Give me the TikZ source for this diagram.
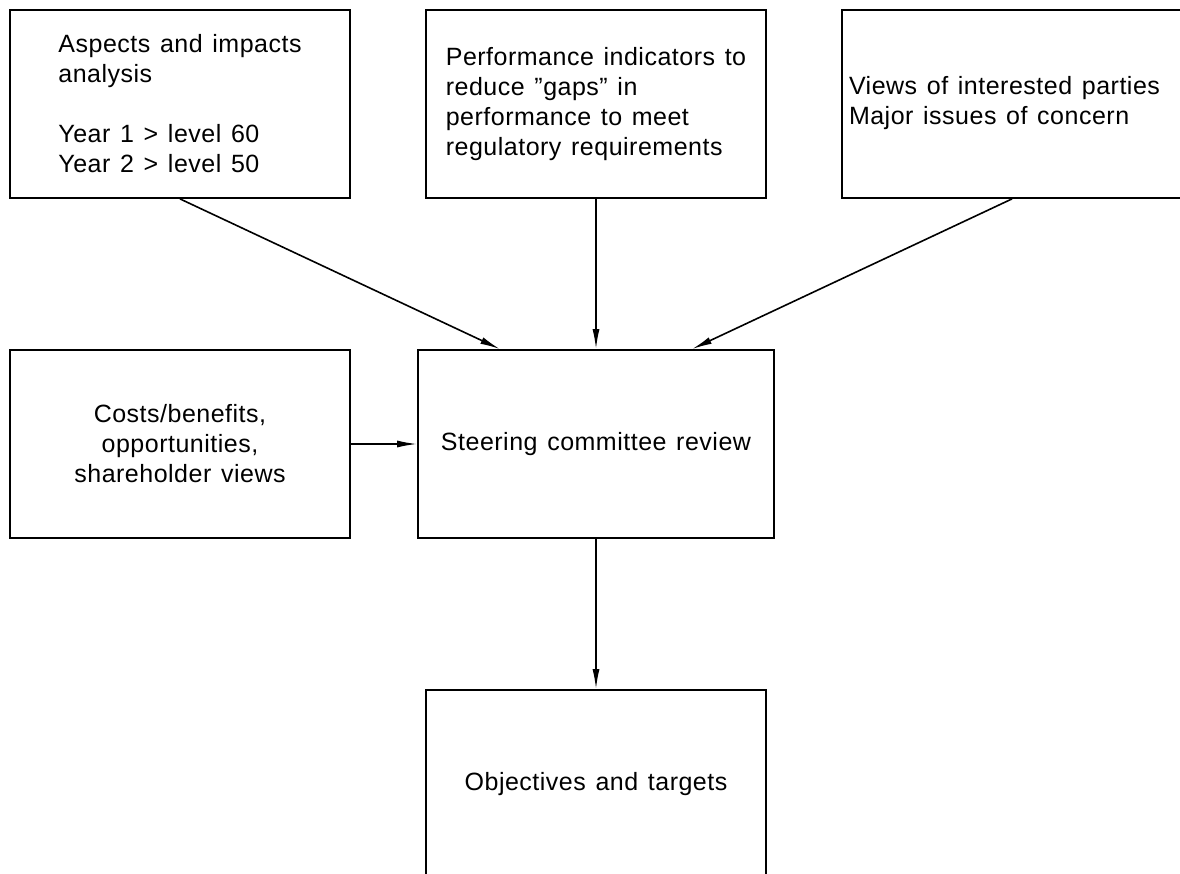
\documentclass[tikz,border=0pt]{standalone}
\usepackage{fontspec}
\setmainfont[LetterSpace=2,WordSpace=1.3]{Liberation Sans}
\usetikzlibrary{arrows.meta,positioning}
\begin{document}
\begin{tikzpicture}[x=1pt,y=-1pt,
  box/.style={draw,line width=1.8pt,minimum width=340pt,minimum height=188pt,
    inner sep=0pt,font=\fontsize{25}{30}\selectfont},
  flow/.style={line width=1.6pt,-{Latex[length=20pt,width=7pt]}}]
  \useasboundingbox (0,0) rectangle (1180,874);
  \clip (0,0) rectangle (1180,874);
  % top row of inputs
  \node[box,align=left] (aspects) at (180,104)
    {Aspects and impacts\\analysis\\[30pt]Year 1 > level 60\\Year 2 > level 50};
  \node[box,align=left] (perf) at (596,104)
    {Performance indicators to\\reduce "gaps" in\\performance to meet\\regulatory requirements};
  \node[box] (views) at (1012,104)
    {\makebox[340pt][l]{\hspace{7pt}\raisebox{4pt}{\begin{tabular}{@{}l@{}}Views of interested parties\\Major issues of concern\end{tabular}}}};
  % middle row
  \node[box,align=center] (costs) at (180,444)
    {Costs/benefits,\\opportunities,\\shareholder views};
  \node[box,minimum width=356pt] (steer) at (596,444) {Steering committee review};
  % result
  \node[box] (obj) at (596,784) {Objectives and targets};
  % connectors
  \draw[flow] (aspects.south) -- ([xshift=-96pt]steer.north);
  \draw[flow] (perf.south) -- (steer.north);
  \draw[flow] (views.south) -- ([xshift=96pt]steer.north);
  \draw[flow] (costs.east) -- (steer.west);
  \draw[flow] (steer.south) -- (obj.north);
\end{tikzpicture}
\end{document}
